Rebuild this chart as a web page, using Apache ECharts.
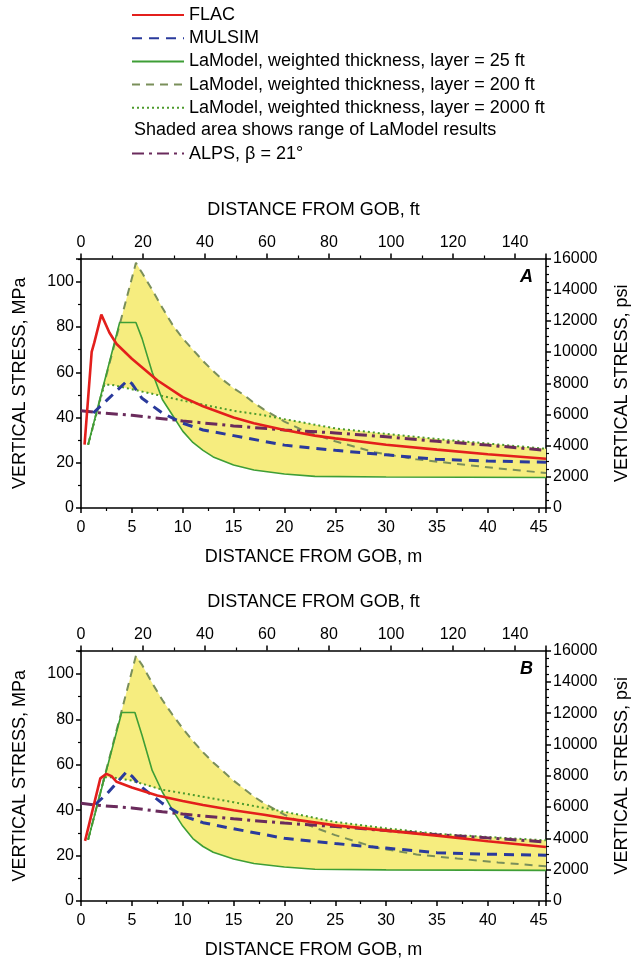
<!DOCTYPE html>
<html><head><meta charset="utf-8">
<script src="https://cdn.jsdelivr.net/npm/echarts@6/dist/echarts.min.js"></script>
<style>html,body{margin:0;padding:0;background:#fff}#c{width:639px;height:961px}</style>
</head><body><div id="c"></div>
<script>
// ---- axis ranges / ticks ----
var xMaxM = 45.72;        // 150 ft in metres
var xMaxFt = 150;
var yMaxMPa = 110.32;     // 16000 psi in MPa
var yMaxPsi = 16000;

// ---- series names ----
var nFLAC = 'FLAC';
var nMUL = 'MULSIM';
var nL25 = 'LaModel, weighted thickness, layer = 25 ft';
var nL200 = 'LaModel, weighted thickness, layer = 200 ft';
var nL2000 = 'LaModel, weighted thickness, layer = 2000 ft';
var nALPS = 'ALPS, \u03b2 = 21\u00b0';
var shadedNote = 'Shaded area shows range of LaModel results';

// ---- panel A data [m, MPa] ----
var flacA = [[0.35,28],[1.05,69],[1.3,73],[2.0,85.5],[2.8,77.5],[3.5,72.5],[5,66],[7.5,56.5],[10,49],[12,45],[15,40],[17,37.5],[20,34.5],[23,32],[25,30.8],[30,28],[35,25.8],[40,23.8],[45.72,21.8]];
var mulsimA = [[1.2,42],[2.5,47.5],[4.6,56.5],[5,55],[6,48.5],[8,42],[10,37.5],[12,34.5],[15,32],[20,27.8],[25,25.5],[30,23.5],[35,21.5],[40,20.8],[45.72,20.2]];
var la25A = [[0.7,28],[3.8,82],[5.4,82],[6,75],[7,60],[8,48],[9,41],[10,34],[11,29],[12,25.5],[13,22.6],[15,19],[17,16.8],[20,15],[23,14],[30,13.7],[45.72,13.5]];
var la200A = [[0.7,28],[5.4,108.4],[6,104],[7,96.5],[8,88.5],[9,81],[10,75],[11,70],[12,65],[13,60.5],[14,56.5],[15,53],[16,50],[17,46.5],[18,43.5],[20,38.2],[22,34],[25,29.5],[29,24.5],[33,21.5],[37,19.5],[41,17.5],[45.72,15.5]];
var la2000A = [[0.7,28],[2.3,54.5],[3,54.5],[5,52.5],[7,50.5],[10,47.5],[15,43],[18,41],[20,39.3],[25,35.2],[30,32.8],[35,30.5],[40,28.5],[45.72,26.2]];
var alpsA = [[0,43],[2,42],[5,41],[8,39.5],[10,38.5],[15,36.3],[20,34.5],[25,33.2],[30,31.5],[35,29.5],[40,27.8],[45.72,25.5]];
var bandUpperA = [[0.7,28],[5.4,108.4],[6,104],[7,96.5],[8,88.5],[9,81],[10,75],[11,70],[12,65],[13,60.5],[14,56.5],[15,53],[16,50],[17,46.5],[18,43.5],[19.5,39.7],[20,39.3],[25,35.2],[30,32.8],[35,30.5],[40,28.5],[45.72,26.2]];
var bandLowerA = [[0.7,28],[2.3,54.5],[3,54.5],[5,52.5],[7,50.5],[7.85,49.7],[8,48],[9,41],[10,34],[11,29],[12,25.5],[13,22.6],[15,19],[17,16.8],[20,15],[23,14],[30,13.7],[45.72,13.5]];

// ---- panel B data [m, MPa] ----
var flacB = [[0.4,26.5],[1.9,54],[2.5,56],[3.0,55],[3.5,52.5],[5,50],[7.5,46.5],[10,44],[12,42.3],[15,40],[18,38],[20,36.5],[25,33.3],[30,31],[35,28.8],[40,26.3],[45.72,23.8]];
var mulsimB = [[1.4,42.5],[2.5,47],[4.5,57],[5,55],[6,50],[7,46.5],[8,43],[10,37.5],[12,34.5],[15,31.8],[20,27.6],[25,25.3],[30,23.3],[35,21.3],[40,20.6],[45.72,20.2]];
var la25B = [[0.7,27],[4.0,83],[5.3,83],[6,73],[7,57.5],[8,48],[9,40],[10,33],[11,27.5],[12,24],[13,21.5],[15,18.5],[17,16.5],[20,15],[23,14],[30,13.7],[45.72,13.5]];
var la200B = [[0.7,27],[5.4,108],[6,104],[7,96],[8,88.5],[9,82],[10,76],[11,70.5],[12,65.5],[13,61],[14,57],[15,53],[16,49.5],[17,46],[18,43],[20,38],[22,34],[25,29],[29,23.5],[33,20.5],[37,18.7],[41,17],[45.72,15.3]];
var la2000B = [[0.7,27],[2.3,54.5],[3,54.5],[5,53],[8,49],[10,47.5],[15,43.5],[18,41],[20,39.3],[25,34.8],[30,32],[35,29.6],[40,28.2],[45.72,26.7]];
var alpsB = [[0,43],[2,42],[5,41],[8,39.3],[10,38.3],[15,36.2],[20,34.3],[25,32.8],[30,31],[35,29.2],[40,27.8],[45.72,26]];
var bandUpperB = [[0.7,27],[5.4,108],[6,104],[7,96],[8,88.5],[9,82],[10,76],[11,70.5],[12,65.5],[13,61],[14,57],[15,53],[16,49.5],[17,46],[18,43],[19.5,39.6],[20,39.3],[25,34.8],[30,32],[35,29.6],[40,28.2],[45.72,26.7]];
var bandLowerB = [[0.7,27],[2.3,54.5],[3,54.5],[5,53],[7.6,49.3],[8,48],[9,40],[10,33],[11,27.5],[12,24],[13,21.5],[15,18.5],[17,16.5],[20,15],[23,14],[30,13.7],[45.72,13.5]];

// ---- styles ----
var FONT = '"Liberation Sans", Arial, sans-serif';
var cRed = '#e31f1c', cBlue = '#2a3a9c', cGreen = '#3e9e36', cDash = '#7a8f5a', cDot = '#4c9a2c', cAlps = '#6a2b5c', cBand = '#f6ed7f';

function lineS(name, data, xi, yi, color, width, type, z) {
  return { type: 'line', name: name, data: data, xAxisIndex: xi, yAxisIndex: yi,
    symbol: 'none', showSymbol: false, smooth: false, z: z, silent: true, animation: false,
    lineStyle: { color: color, width: width, type: type, cap: 'butt' }, itemStyle: { color: color } };
}
function bandS(upper, lower, xi, yi) {
  return { type: 'custom', name: 'band', xAxisIndex: xi, yAxisIndex: yi, z: 1, silent: true, animation: false,
    data: [[0, 0]],
    renderItem: function (params, api) {
      var pts = upper.map(function (p) { return api.coord(p); })
        .concat(lower.slice().reverse().map(function (p) { return api.coord(p); }));
      return { type: 'polygon', shape: { points: pts }, style: { fill: cBand, stroke: null } };
    } };
}
function panelSeries(d, xi, yi) {
  return [
    bandS(d.up, d.lo, xi, yi),
    lineS(nL200, d.l200, xi, yi, cDash, 2, [8, 6], 3),
    lineS(nL2000, d.l2000, xi, yi, cDot, 2, [2, 3], 3),
    lineS(nL25, d.l25, xi, yi, cGreen, 1.6, 'solid', 4),
    lineS(nALPS, d.alps, xi, yi, cAlps, 3, [12, 5, 3, 5], 5),
    lineS(nMUL, d.mul, xi, yi, cBlue, 3, [10, 7], 6),
    lineS(nFLAC, d.flac, xi, yi, cRed, 2.6, 'solid', 7)
  ];
}

var axLine = { show: true, onZero: false, lineStyle: { color: '#000', width: 1.6 } };
var tick = { show: true, length: 5, lineStyle: { color: '#000', width: 1.5 } };
function minor(n) { return { show: true, splitNumber: n, length: 3, lineStyle: { color: '#000', width: 1.2 } }; }
function lbl(margin) { return { color: '#000', fontSize: 16, fontFamily: FONT, showMaxLabel: false, margin: margin }; }
var nameSt = { color: '#000', fontSize: 18, fontFamily: FONT };

function xAxes(g) {
  return [
    { gridIndex: g, type: 'value', position: 'bottom', min: 0, max: xMaxM, interval: 5,
      name: 'DISTANCE FROM GOB, m', nameLocation: 'middle', nameGap: 40, nameTextStyle: nameSt,
      axisLine: axLine, axisTick: tick, minorTick: minor(2), axisLabel: lbl(12), splitLine: { show: false } },
    { gridIndex: g, type: 'value', position: 'top', min: 0, max: xMaxFt, interval: 20,
      name: 'DISTANCE FROM GOB, ft', nameLocation: 'middle', nameGap: 39, nameTextStyle: nameSt,
      axisLine: axLine, axisTick: tick, minorTick: minor(2), axisLabel: lbl(8), splitLine: { show: false } }
  ];
}
function yAxes(g) {
  return [
    { gridIndex: g, type: 'value', position: 'left', min: 0, max: yMaxMPa, interval: 20,
      name: 'VERTICAL STRESS, MPa', nameLocation: 'middle', nameGap: 52, nameTextStyle: nameSt,
      axisLine: axLine, axisTick: tick, minorTick: minor(2), axisLabel: lbl(7), splitLine: { show: false } },
    { gridIndex: g, type: 'value', position: 'right', min: 0, max: yMaxPsi, interval: 2000,
      name: 'VERTICAL STRESS, psi', nameLocation: 'middle', nameGap: 67, nameTextStyle: nameSt,
      axisLine: axLine, axisTick: tick, minorTick: minor(4),
      axisLabel: { color: '#000', fontSize: 16, fontFamily: FONT, margin: 7, formatter: function (v) { return String(v); } },
      splitLine: { show: false } }
  ];
}

var chart = echarts.init(document.getElementById('c'), null, { renderer: 'canvas' });
var legendText = { color: '#000', fontSize: 18, fontFamily: FONT, lineHeight: 23.2 };
var legendBase = { orient: 'vertical', left: 126, itemWidth: 52, itemHeight: 14, itemGap: 0,
  selectedMode: false, textStyle: legendText, itemStyle: { opacity: 0, borderWidth: 0 } };
chart.setOption({
  backgroundColor: '#fff',
  animation: false,
  grid: [
    { left: 81, right: 92, top: 258.5, height: 249.5 },
    { left: 81, right: 92, top: 650.5, height: 250.5 }
  ],
  xAxis: xAxes(0).concat(xAxes(1)),
  yAxis: yAxes(0).concat(yAxes(1)),
  legend: [
    Object.assign({}, legendBase, { top: -1.6, data: [nFLAC, nMUL, nL25, nL200, nL2000] }),
    Object.assign({}, legendBase, { top: 137, data: [nALPS] })
  ],
  graphic: [
    { type: 'text', left: 134, top: 121, style: { text: shadedNote, fill: '#000', fontSize: 18, fontFamily: FONT } },
    { type: 'text', left: 520, top: 268, style: { text: 'A', fill: '#000', fontSize: 18, fontWeight: 'bold', fontStyle: 'italic', fontFamily: FONT } },
    { type: 'text', left: 520, top: 660, style: { text: 'B', fill: '#000', fontSize: 18, fontWeight: 'bold', fontStyle: 'italic', fontFamily: FONT } }
  ],
  series: panelSeries({ up: bandUpperA, lo: bandLowerA, flac: flacA, mul: mulsimA, l25: la25A, l200: la200A, l2000: la2000A, alps: alpsA }, 0, 0)
    .concat(panelSeries({ up: bandUpperB, lo: bandLowerB, flac: flacB, mul: mulsimB, l25: la25B, l200: la200B, l2000: la2000B, alps: alpsB }, 2, 2))
});
</script></body></html>
